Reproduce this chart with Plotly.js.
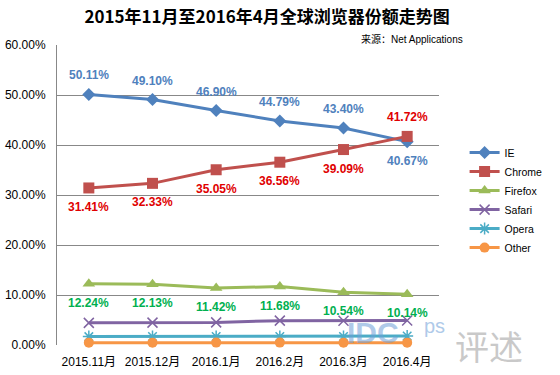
<!DOCTYPE html>
<html>
<head>
<meta charset="utf-8">
<script src="https://cdn.plot.ly/plotly-3.0.1.min.js"></script>
<style>html,body{margin:0;padding:0;background:#fff;}#chart{width:560px;height:375px;}</style>
</head>
<body>
<div id="chart"></div>
<script>
const categories = ["2015.11月","2015.12月","2016.1月","2016.2月","2016.3月","2016.4月"];
const ie      = [50.11, 49.10, 46.90, 44.79, 43.40, 40.67];
const chrome  = [31.41, 32.33, 35.05, 36.56, 39.09, 41.72];
const firefox = [12.24, 12.13, 11.42, 11.68, 10.54, 10.14];
const safari  = [4.43, 4.47, 4.52, 4.87, 4.86, 4.90];
const opera   = [1.68, 1.70, 1.69, 1.70, 1.71, 1.80];
const other   = [0.47, 0.47, 0.48, 0.48, 0.46, 0.47];
const seriesNames = ["IE","Chrome","Firefox","Safari","Opera","Other"];
const ieLabelPos = ["top","top","top","top","top","bottom"];
const chromeLabelPos = ["bottom","bottom","bottom","bottom","bottom","top"];
const firefoxLabelPos = ["bottom","bottom","bottom","bottom","bottom","bottom"];

const colors = ["#4F81BD","#C0504D","#9BBB59","#8064A2","#4BACC6","#F79646"];
const symbols = ["diamond","square","triangle-up","x-thin-open","asterisk-open","circle"];
const msizes = [10,11,11,10,10,10];
const allData = [ie, chrome, firefox, safari, opera, other];

const traces = allData.map((vals,i)=>({
  type:"scatter", mode:"lines+markers", name:seriesNames[i],
  x:categories, y:vals,
  line:{color:colors[i], width:3},
  marker:{symbol:symbols[i], size:msizes[i], color:colors[i], line:{color:colors[i], width: (i===3||i===4)?1.5:0}},
  cliponaxis:false
}));

const fmt = v => v.toFixed(2) + "%";
const annotations = [];
function addLabels(vals, pos, color){
  vals.forEach((v,j)=>{
    annotations.push({x:categories[j], y:v, xref:"x", yref:"y", text:fmt(v), showarrow:false,
      yshift: pos[j]==="top" ? 19 : -19,
      font:{family:"Liberation Sans, Arial", size:12, color:color, weight:"bold"}});
  });
}
addLabels(ie, ieLabelPos, "#4F81BD");
addLabels(chrome, chromeLabelPos, "#E00000");
addLabels(firefox, firefoxLabelPos, "#00B050");

annotations.push({xref:"paper", yref:"paper", x:1.068, y:1.0, xanchor:"right", yanchor:"bottom", yshift:-2,
  text:"来源：Net Applications", showarrow:false,
  font:{family:"Liberation Sans, Noto Sans CJK SC", size:10, color:"#000"}});
// watermark
annotations.push({xref:"paper", yref:"paper", x:0.755, y:-0.02, xanchor:"left", yanchor:"bottom",
  text:"<b>IDC</b>", showarrow:false, opacity:0.55,
  font:{family:"Liberation Sans", size:30, color:"#6FA0D8"}});
annotations.push({xref:"paper", yref:"paper", x:0.955, y:0.02, xanchor:"left", yanchor:"bottom",
  text:"ps", showarrow:false, opacity:0.55,
  font:{family:"Liberation Sans", size:20, color:"#6FA0D8"}});
annotations.push({xref:"paper", yref:"paper", x:1.225, y:-0.09, xanchor:"right", yanchor:"bottom",
  text:"评述", showarrow:false, opacity:0.45,
  font:{family:"Noto Sans CJK SC", size:34, color:"#888"}});

const layout = {
  width:560, height:375,
  margin:{l:57, r:95, t:45, b:30},
  paper_bgcolor:"#fff", plot_bgcolor:"#fff",
  title:{text:"2015年11月至2016年4月全球浏览器份额走势图", x:0.477, xanchor:"center", y:0.955, yanchor:"middle",
    font:{family:"Noto Sans CJK SC", size:17, color:"#000", weight:"bold"}},
  font:{family:"Liberation Sans, Arial", size:12, color:"#000"},
  xaxis:{type:"category", showgrid:false, showline:false, zeroline:false, ticks:"", ticklabelstandoff:8,
    tickfont:{family:"Liberation Sans, Noto Sans CJK SC", size:12}, range:[-0.5,5.5]},
  yaxis:{range:[0,60], dtick:10, tickformat:".2f", ticksuffix:"%", showgrid:true, gridcolor:"#888", gridwidth:1,
    showline:true, linecolor:"#888", linewidth:1, zeroline:false, ticks:"", ticklabelstandoff:8,
    tickfont:{family:"Liberation Sans", size:12}},
  showlegend:true,
  legend:{x:1.067, xanchor:"left", y:0.483, yanchor:"middle", font:{family:"Liberation Sans", size:10.5}, itemwidth:30, tracegroupgap:0, bgcolor:"rgba(0,0,0,0)"},
  annotations:annotations
};
Plotly.newPlot("chart", traces, layout, {staticPlot:true});
</script>
</body>
</html>
